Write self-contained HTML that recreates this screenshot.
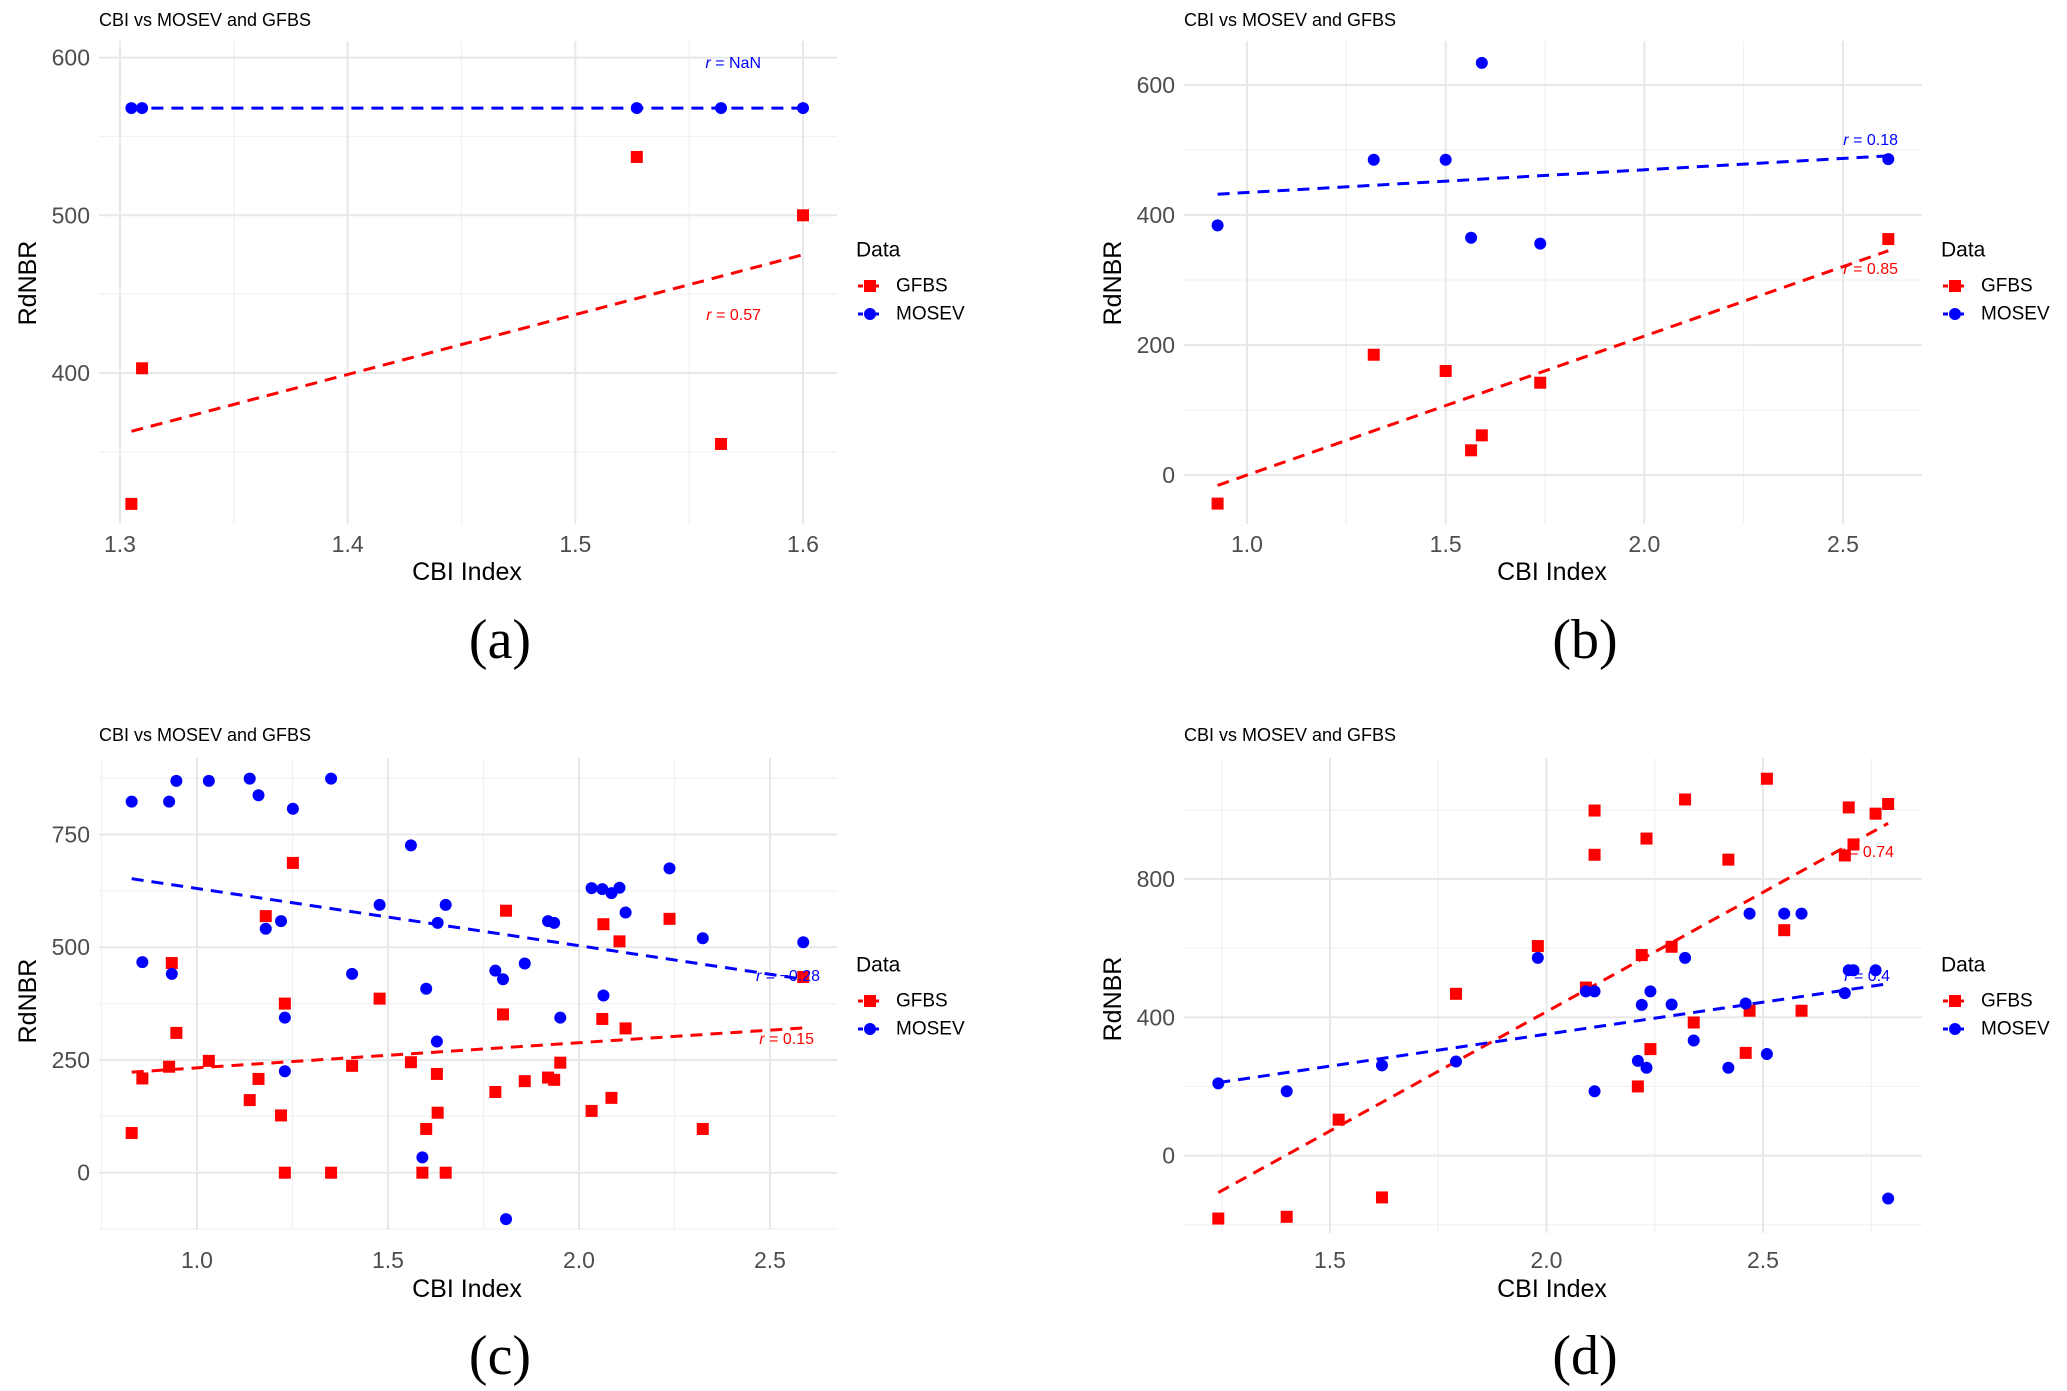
<!DOCTYPE html>
<html><head><meta charset="utf-8">
<style>
html,body{margin:0;padding:0;background:#fff;}
svg{display:block;}
text{font-family:"Liberation Sans",sans-serif;}
text.cap{font-family:"Liberation Serif",serif;}
</style></head>
<body>
<svg id="fig" width="2067" height="1391" viewBox="0 0 2067 1391" xmlns="http://www.w3.org/2000/svg"></svg>
<script>
// ---------- Panel (a) data ----------
const aMosevX = [1.305, 1.3097, 1.527, 1.564, 1.6];
const aMosevY = [568, 568, 568, 568, 568];
const aGfbsX = [1.305, 1.3097, 1.527, 1.564, 1.6];
const aGfbsY = [317, 403, 537, 355, 500];
const aFitGfbs = [363, 475];
const aFitMosev = [568, 568];
const aXTicks = [1.3, 1.4, 1.5, 1.6];
const aYTicks = [400, 500, 600];
const aRLabels = ["NaN", "0.57"];
// ---------- Panel (b) data ----------
const bMosevX = [0.926, 1.319, 1.5, 1.591, 1.564, 1.738, 2.614];
const bMosevY = [384, 485, 485, 634, 365, 356, 486];
const bGfbsX = [0.926, 1.319, 1.5, 1.591, 1.564, 1.738, 2.614];
const bGfbsY = [-44, 185, 160, 61, 38, 142, 363];
const bFitGfbs = [-16, 345];
const bFitMosev = [432, 491];
const bXTicks = [1.0, 1.5, 2.0, 2.5];
const bYTicks = [0, 200, 400, 600];
const bRLabels = ["0.18", "0.85"];
// ---------- Panel (c) data ----------
const cMosevX = [0.829,0.927,0.946,1.031,1.138,1.161,1.251,1.351,1.560,0.857,0.934,1.180,1.220,1.230,1.230,1.406,1.478,1.600,1.630,1.651,1.628,1.590,1.781,1.801,1.858,1.809,1.919,1.935,1.951,2.033,2.061,2.085,2.106,2.122,2.064,2.237,2.324,2.587];
const cMosevY = [823,823,869,869,874,837,807,874,726,467,441,541,558,344,225,441,594,408,554,594,291,34,448,429,464,-103,558,554,344,631,629,620,632,577,393,675,520,511];
const cGfbsX = [0.829,0.857,0.927,0.934,0.946,1.031,1.138,1.161,1.180,1.220,1.230,1.230,1.251,1.351,1.406,1.478,1.560,1.590,1.600,1.628,1.630,1.651,1.781,1.801,1.809,1.858,1.919,1.935,1.951,2.033,2.061,2.064,2.085,2.106,2.122,2.237,2.324,2.587];
const cGfbsY = [88,209,235,465,310,248,161,208,569,127,375,0,687,0,237,386,245,0,97,219,133,0,179,351,581,203,211,206,244,137,341,551,166,513,320,563,97,434];
const cFitGfbs = [223, 321];
const cFitMosev = [652, 429];
const cXTicks = [1.0, 1.5, 2.0, 2.5];
const cYTicks = [0, 250, 500, 750];
const cRLabels = ["\u22120.28", "0.15"];
// ---------- Panel (d) data ----------
const dGfbsX = [1.242,1.4,1.52,1.62,1.791,1.98,2.091,2.111,2.111,2.211,2.22,2.231,2.24,2.289,2.32,2.34,2.42,2.46,2.469,2.509,2.549,2.589,2.689,2.698,2.709,2.76,2.789];
const dGfbsY = [-182,-177,104,-121,468,606,486,998,870,200,580,917,308,604,1030,385,856,297,419,1090,652,419,868,1007,900,989,1017];
const dMosevX = [1.242,1.4,1.62,1.791,1.98,2.091,2.111,2.111,2.211,2.22,2.231,2.24,2.289,2.32,2.34,2.42,2.46,2.469,2.509,2.549,2.589,2.689,2.698,2.709,2.76,2.789];
const dMosevY = [209,186,261,272,572,475,475,186,274,436,254,475,437,572,333,254,440,700,294,700,700,470,536,536,536,-124];
const dFitGfbs = [-107, 961];
const dFitMosev = [211, 497];
const dXTicks = [1.5, 2.0, 2.5];
const dYTicks = [0, 400, 800];
const dRLabels = ["0.4", "0.74"];

const NS = "http://www.w3.org/2000/svg";
const fig = document.getElementById("fig");
function mk(tag, attrs, parent, txt){
  const e = document.createElementNS(NS, tag);
  for (const k in attrs) e.setAttribute(k, attrs[k]);
  if (txt !== undefined) e.textContent = txt;
  (parent||fig).appendChild(e);
  return e;
}
function fmt(v, dec){ return dec ? v.toFixed(dec) : String(v); }

const panels = [
 {id:"a", ox:0, top:41, bot:524, xv:[1.3,1.6], xp:[120,803], yv:[400,600], yp:[373,57.6],
  xTicks:aXTicks, xMinor:[1.35,1.45,1.55], xDec:1, yTicks:aYTicks, yMinor:[350,450,550],
  gx:aGfbsX, gy:aGfbsY, mx:aMosevX, my:aMosevY, fg:aFitGfbs, fm:aFitMosev, r:aRLabels,
  titleY:20, tickY:544, xTitleY:572, capY:640, legY:[250,286,314], yTitleY:283,
  rM:[761,63], rG:[761,315]},
 {id:"b", ox:1085, top:41, bot:524, xv:[1.0,2.5], xp:[162,758], yv:[0,600], yp:[475,85],
  xTicks:bXTicks, xMinor:[1.25,1.75,2.25], xDec:1, yTicks:bYTicks, yMinor:[100,300,500],
  gx:bGfbsX, gy:bGfbsY, mx:bMosevX, my:bMosevY, fg:bFitGfbs, fm:bFitMosev, r:bRLabels,
  titleY:20, tickY:544, xTitleY:572, capY:640, legY:[250,286,314], yTitleY:283,
  rM:[813,140], rG:[813,269]},
 {id:"c", ox:0, top:758, bot:1230, xv:[1.0,2.5], xp:[197,770], yv:[0,750], yp:[1172.7,834.5],
  xTicks:cXTicks, xMinor:[0.75,1.25,1.75,2.25], xDec:1, yTicks:cYTicks, yMinor:[-125,125,375,625,875],
  gx:cGfbsX, gy:cGfbsY, mx:cMosevX, my:cMosevY, fg:cFitGfbs, fm:cFitMosev, r:cRLabels,
  titleY:735, tickY:1260, xTitleY:1289, capY:1356, legY:[965,1001,1029], yTitleY:1001,
  rM:[820,976], rG:[814,1039]},
 {id:"d", ox:1085, top:758, bot:1233, xv:[1.5,2.5], xp:[245,678], yv:[0,800], yp:[1155.6,879],
  xTicks:dXTicks, xMinor:[1.25,1.75,2.25,2.75], xDec:1, yTicks:dYTicks, yMinor:[-200,200,600,1000],
  gx:dGfbsX, gy:dGfbsY, mx:dMosevX, my:dMosevY, fg:dFitGfbs, fm:dFitMosev, r:dRLabels,
  titleY:735, tickY:1260, xTitleY:1289, capY:1356, legY:[965,1001,1029], yTitleY:999,
  rM:[805,976], rG:[809,852]}
];

panels.forEach(p => {
  const g = mk("g", {transform:`translate(${p.ox},0)`});
  
  
  const L = 99, R = 837;
  const sx = v => p.xp[0] + (v - p.xv[0]) * (p.xp[1]-p.xp[0])/(p.xv[1]-p.xv[0]);
  const sy = v => p.yp[0] + (v - p.yv[0]) * (p.yp[1]-p.yp[0])/(p.yv[1]-p.yv[0]);
  const grid = mk("g", {}, g);
  
  
  p.xMinor.forEach(v => { const x = sx(v); if (x > L && x < R) mk("line",{x1:x,x2:x,y1:p.top,y2:p.bot,stroke:"#f2f2f2","stroke-width":1.3},grid); });
  p.yMinor.forEach(v => { const y = sy(v); if (y > p.top-2 && y < p.bot+2) mk("line",{x1:L,x2:R,y1:y,y2:y,stroke:"#f2f2f2","stroke-width":1.3},grid); });
  p.xTicks.forEach(v => { const x = sx(v); mk("line",{x1:x,x2:x,y1:p.top,y2:p.bot,stroke:"#e8e8e8","stroke-width":2},grid); });
  p.yTicks.forEach(v => { const y = sy(v); mk("line",{x1:L,x2:R,y1:y,y2:y,stroke:"#e8e8e8","stroke-width":2},grid); });
  p.xTicks.forEach(v => {
    const t = mk("text",{x:sx(v),y:p.tickY,"text-anchor":"middle","dominant-baseline":"central","font-size":23,fill:"#4d4d4d"},g,fmt(v,p.xDec));
    
    
  });
  p.yTicks.forEach(v => {
    const t = mk("text",{x:90,y:sy(v),"text-anchor":"end","dominant-baseline":"central","font-size":23,fill:"#4d4d4d"},g,String(v));
    
    
  });
  const gxMin = Math.min(...p.gx), gxMax = Math.max(...p.gx);
  const mxMin = Math.min(...p.mx), mxMax = Math.max(...p.mx);
  const fl1 = mk("line",{x1:sx(gxMin),y1:sy(p.fg[0]),x2:sx(gxMax),y2:sy(p.fg[1]),stroke:"#ff0000","stroke-width":3,"stroke-dasharray":"12 8"},g);
  
  
  const fl2 = mk("line",{x1:sx(mxMin),y1:sy(p.fm[0]),x2:sx(mxMax),y2:sy(p.fm[1]),stroke:"#0000ff","stroke-width":3,"stroke-dasharray":"12 8"},g);
  
  
  p.gx.forEach((v,i) => {
    const r = mk("rect",{x:sx(v)-6,y:sy(p.gy[i])-6,width:12,height:12,fill:"#ff0000"},g);
    
    
  });
  p.mx.forEach((v,i) => {
    const c = mk("circle",{cx:sx(v),cy:sy(p.my[i]),r:6,fill:"#0000ff"},g);
    
    
  });
  const rm = mk("text",{x:p.rM[0],y:p.rM[1],"text-anchor":"end","dominant-baseline":"central","font-size":16,fill:"#0000ff"},g);
  
  
  mk("tspan",{"font-style":"italic"},rm,"r");
  mk("tspan",{},rm," = " + p.r[0]);
  const rg = mk("text",{x:p.rG[0],y:p.rG[1],"text-anchor":"end","dominant-baseline":"central","font-size":16,fill:"#ff0000"},g);
  
  
  mk("tspan",{"font-style":"italic"},rg,"r");
  mk("tspan",{},rg," = " + p.r[1]);
  const tt = mk("text",{x:99,y:p.titleY,"dominant-baseline":"central","font-size":18,fill:"#000"},g,"CBI vs MOSEV and GFBS");
  
  
  const xt = mk("text",{x:467,y:p.xTitleY,"text-anchor":"middle","dominant-baseline":"central","font-size":25,fill:"#000"},g,"CBI Index");
  
  
  const yt = mk("text",{x:0,y:0,"text-anchor":"middle","dominant-baseline":"central","font-size":25,fill:"#000",transform:`translate(28,${p.yTitleY}) rotate(-90)`},g,"RdNBR");
  
  
  const cap = mk("text",{x:500,y:p.capY,"text-anchor":"middle","dominant-baseline":"central","font-size":56,fill:"#000","class":"cap"},g,"(" + p.id + ")");
  
  
  const lg = mk("g",{},g);
  
  
  mk("text",{x:856,y:p.legY[0],"dominant-baseline":"central","font-size":21,fill:"#000"},lg,"Data");
  const e1 = mk("g",{},lg);
  
  
  mk("line",{x1:858,x2:880,y1:p.legY[1],y2:p.legY[1],stroke:"#ff0000","stroke-width":3,"stroke-dasharray":"5 3"},e1);
  mk("rect",{x:864,y:p.legY[1]-6,width:12,height:12,fill:"#ff0000"},e1);
  mk("text",{x:896,y:p.legY[1],"dominant-baseline":"central","font-size":19,fill:"#000"},e1,"GFBS");
  const e2 = mk("g",{},lg);
  
  
  mk("line",{x1:858,x2:880,y1:p.legY[2],y2:p.legY[2],stroke:"#0000ff","stroke-width":3,"stroke-dasharray":"5 3"},e2);
  mk("circle",{cx:870,cy:p.legY[2],r:6,fill:"#0000ff"},e2);
  mk("text",{x:896,y:p.legY[2],"dominant-baseline":"central","font-size":19,fill:"#000"},e2,"MOSEV");
});
</script>
</body></html>
